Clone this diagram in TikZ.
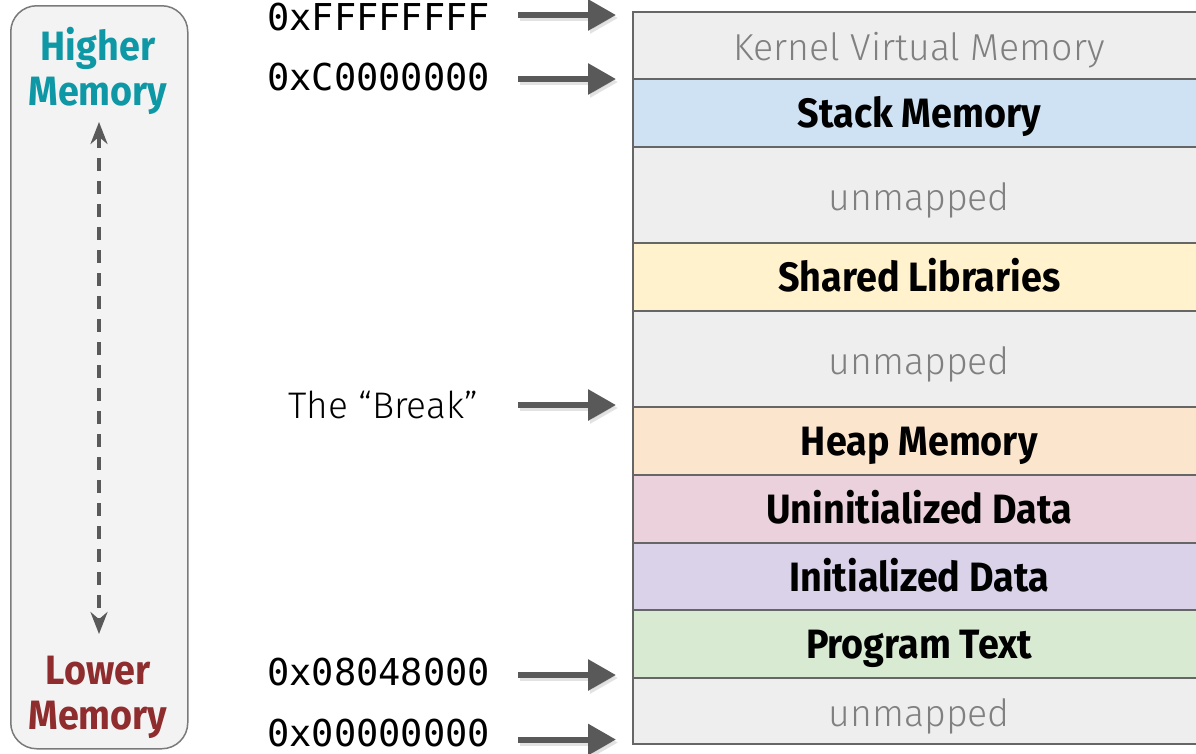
\documentclass[tikz,border=0pt]{standalone}
\usepackage{fontspec}
\setmainfont{Fira Sans}
\newfontfamily\lightfont{Fira Sans Light}
\newfontfamily\condfont{Fira Sans}[FakeStretch=0.92]
\setmonofont{DejaVu Sans Mono}
\usetikzlibrary{arrows.meta}
\definecolor{kerngray}{HTML}{EEEEEE}
\definecolor{stackblue}{HTML}{CFE2F3}
\definecolor{libyellow}{HTML}{FFF2CC}
\definecolor{heaporange}{HTML}{FCE5CD}
\definecolor{uninitpink}{HTML}{EAD1DC}
\definecolor{initpurple}{HTML}{D9D2E9}
\definecolor{textgreen}{HTML}{D9EAD3}
\definecolor{bordergray}{HTML}{666666}
\definecolor{lighttext}{HTML}{808080}
\definecolor{arrowgray}{HTML}{595959}
\definecolor{highteal}{HTML}{0E97A5}
\definecolor{lowred}{HTML}{8E2C2E}
\definecolor{sidefill}{HTML}{F3F3F3}
\definecolor{sideborder}{HTML}{7A7A7A}
\tikzset{
  seg/.style={draw=bordergray, line width=1.5pt, inner sep=0pt, minimum width=573pt, anchor=north west},
  boldlabel/.style={font=\condfont\bfseries\fontsize{41}{45}\selectfont, text=black, inner sep=0pt, text height=30pt, text depth=0pt},
  lightlabel/.style={font=\lightfont\fontsize{37.5}{42}\selectfont, text=lighttext, inner sep=0pt, text height=31pt, text depth=0pt},
  addr/.style={font=\ttfamily\fontsize{37}{40}\selectfont, anchor=west, inner sep=0pt},
  bigarrow/.style={draw=arrowgray, line width=6pt, -{Triangle[length=28pt,width=30pt]}},
  shadowarrow/.style={draw=black!25, opacity=0.45, line width=6pt, -{Triangle[length=28pt,width=30pt]}},
  sidelabel/.style={font=\condfont\bfseries\fontsize{41}{45}\selectfont, align=center, inner sep=0pt},
}
\begin{document}
\begin{tikzpicture}[x=1pt,y=-1pt]
\useasboundingbox (0,0) rectangle (1196,753);
% side panel
\node[draw=sideborder, fill=sidefill, line width=1.5pt, rounded corners=26pt, minimum width=177pt, minimum height=743pt, inner sep=0pt, anchor=north west] (side) at (10,5) {};
\node[sidelabel, text=highteal] (high) at (98,71) {Higher\\Memory};
\node[sidelabel, text=lowred] (low) at (98,697) {Lower\\Memory};
\coordinate (up) at (99,122);
\coordinate (dn) at (99,634);
\draw[draw=arrowgray, line width=3.5pt, dash pattern=on 13pt off 10pt, {Stealth[length=22pt,width=17pt]}-{Stealth[length=22pt,width=17pt]}] (up) -- (dn);
% memory segments
\node[seg, fill=kerngray, minimum height=67pt] (kern) at (632,11) {};
\node[lightlabel] at (kern.center) {Kernel Virtual Memory};
\node[seg, fill=stackblue, minimum height=68pt] (stack) at (632,78) {};
\node[boldlabel] at (stack.center) {Stack Memory};
\node[seg, fill=kerngray, minimum height=96pt] (un1) at (632,146) {};
\node[lightlabel] at (un1.center) {unmapped};
\node[seg, fill=libyellow, minimum height=68pt] (libs) at (632,242) {};
\node[boldlabel] at (libs.center) {Shared Libraries};
\node[seg, fill=kerngray, minimum height=96pt] (un2) at (632,310) {};
\node[lightlabel] at (un2.center) {unmapped};
\node[seg, fill=heaporange, minimum height=68pt] (heap) at (632,406) {};
\node[boldlabel] at (heap.center) {Heap Memory};
\node[seg, fill=uninitpink, minimum height=68pt] (bss) at (632,474) {};
\node[boldlabel] at (bss.center) {Uninitialized Data};
\node[seg, fill=initpurple, minimum height=67pt] (data) at (632,542) {};
\node[boldlabel] at (data.center) {Initialized Data};
\node[seg, fill=textgreen, minimum height=68pt] (prog) at (632,609) {};
\node[boldlabel] at (prog.center) {Program Text};
\node[seg, fill=kerngray, minimum height=66pt] (un3) at (632,677) {};
\node[lightlabel] at (un3.center) {unmapped};
% address labels
\node[addr] (a1) at (267,17) {0xFFFFFFFF};
\node[addr] (a2) at (267,77) {0xC0000000};
\node[addr] (a3) at (267,672) {0x08048000};
\node[addr] (a4) at (267,733) {0x00000000};
\node[font=\lightfont\fontsize{37}{40}\selectfont, anchor=west, inner sep=0pt] (brk) at (288,405) {The “Break”};
% arrows
\foreach \n/\s/\t in {kern.north west/-4/-7, stack.north west/-1/-4, heap.north west/1/-2, un3.north west/2/-1, un3.south west/5/2}{
  \draw[shadowarrow] ([xshift=-112pt,yshift=\t pt]\n) -- ([xshift=-14pt,yshift=\t pt]\n);
  \draw[bigarrow] ([xshift=-114pt,yshift=\s pt]\n) -- ([xshift=-16pt,yshift=\s pt]\n);
}
\end{tikzpicture}
\end{document}
